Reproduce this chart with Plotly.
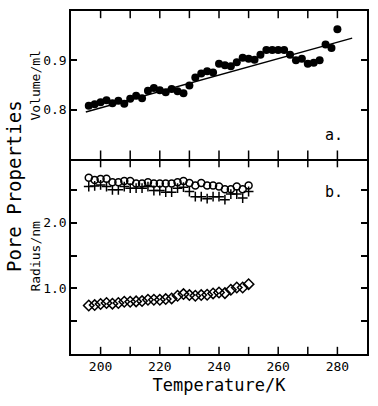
import plotly.graph_objects as go

# ---- data ----
temp_a = [196, 198, 200, 202, 204, 206, 208, 210, 212, 214, 216, 218, 220, 222,
          224, 226, 228, 230, 232, 234, 236, 238, 240, 242, 244, 246, 248, 250,
          252, 254, 256, 258, 260, 262, 264, 266, 268, 270, 272, 274, 276, 278, 280]
volume = [0.808, 0.811, 0.815, 0.819, 0.813, 0.818, 0.812, 0.822, 0.828, 0.823,
          0.838, 0.844, 0.839, 0.835, 0.842, 0.837, 0.833, 0.849, 0.865, 0.873,
          0.878, 0.875, 0.893, 0.890, 0.888, 0.896, 0.905, 0.903, 0.901, 0.911,
          0.921, 0.921, 0.921, 0.921, 0.911, 0.900, 0.903, 0.893, 0.895, 0.900,
          0.932, 0.925, 0.963]
fit_temp = [195, 285]
fit_volume = [0.795, 0.945]

temp_b = [196, 198, 200, 202, 204, 206, 208, 210, 212, 214, 216, 218, 220, 222,
          224, 226, 228, 230, 232, 234, 236, 238, 240, 242, 244, 246, 248, 250]
radius_circle = [2.69, 2.655, 2.67, 2.675, 2.62, 2.62, 2.64, 2.64, 2.60, 2.60,
                 2.62, 2.60, 2.60, 2.60, 2.60, 2.62, 2.64, 2.61, 2.57, 2.61,
                 2.57, 2.57, 2.555, 2.515, 2.515, 2.555, 2.515, 2.57]
radius_plus = [2.555, 2.565, 2.58, 2.555, 2.505, 2.505, 2.555, 2.53, 2.53, 2.53,
               2.555, 2.495, 2.495, 2.47, 2.47, 2.53, 2.545, 2.48, 2.40, 2.40,
               2.37, 2.40, 2.40, 2.355, 2.44, 2.44, 2.38, 2.48]
radius_diamond = [0.74, 0.747, 0.763, 0.778, 0.768, 0.778, 0.798, 0.798, 0.803,
                  0.808, 0.828, 0.828, 0.828, 0.838, 0.848, 0.889, 0.914, 0.899,
                  0.889, 0.899, 0.904, 0.924, 0.939, 0.929, 0.98, 1.015, 1.015, 1.066]

x_tickvals = [200, 210, 220, 230, 240, 250, 260, 270, 280]
x_ticktext = ["200", "", "220", "", "240", "", "260", "", "280"]
ya_tickvals = [0.8, 0.9]
ya_ticktext = ["0.8", "0.9"]
yb_tickvals = [0.5, 1.0, 1.5, 2.0, 2.5]
yb_ticktext = ["", "1.0", "", "2.0", ""]

FONT = "DejaVu Sans Mono"

# plot area at x 71..367, y 9..354 of the 378x406 page
PL, PT, PW, PH = 71, 9, 296, 345
W, H = 378, 406
LW = 1.5
TICK = 6
YA_RANGE = [0.7, 1.0]
YB_RANGE = [0.0, 3.0]

split = 197 / 345
half = (LW / 2) / PH
ya_dom = [split - half, 1]
yb_dom = [0, split + half]


def px(xp):
    return (xp - PL) / PW


def py(yp):
    return (PT + PH - yp) / PH


def units_per_px(rng, dom):
    return (rng[1] - rng[0]) / ((dom[1] - dom[0]) * PH)


ua = units_per_px(YA_RANGE, ya_dom)
ub = units_per_px(YB_RANGE, yb_dom)

fig = go.Figure()
fig.add_trace(go.Scatter(x=fit_temp, y=fit_volume, mode="lines",
                         line=dict(color="black", width=1.5),
                         xaxis="x2", yaxis="y2", showlegend=False))
fig.add_trace(go.Scatter(x=temp_a, y=volume, mode="markers",
                         marker=dict(symbol="circle", size=8, color="black"),
                         xaxis="x2", yaxis="y2", showlegend=False))
fig.add_trace(go.Scatter(x=temp_b, y=radius_plus, mode="markers",
                         marker=dict(symbol="cross-thin", size=7,
                                     line=dict(color="black", width=1.5)),
                         xaxis="x", yaxis="y", showlegend=False))
fig.add_trace(go.Scatter(x=temp_b, y=radius_circle, mode="markers",
                         marker=dict(symbol="circle-open", size=7, color="black",
                                     line=dict(width=1.5)),
                         xaxis="x", yaxis="y", showlegend=False))
fig.add_trace(go.Scatter(x=temp_b, y=radius_diamond, mode="markers",
                         marker=dict(symbol="diamond-open", size=8, color="black",
                                     line=dict(width=1.5)),
                         xaxis="x", yaxis="y", showlegend=False))

# x-axis tick marks drawn as short vertical line markers (inside the frame;
# the shared panel boundary gets ticks on both sides)
tick_rows = [
    ("x2", "y2", YA_RANGE[1] - ua * TICK / 2, TICK),   # top of panel a
    ("x2", "y2", YA_RANGE[0], 2 * TICK),               # shared boundary
    ("x", "y", YB_RANGE[0] + ub * TICK / 2, TICK),     # bottom of panel b
]
for xa, ya, yv, size in tick_rows:
    fig.add_trace(go.Scatter(
        x=x_tickvals, y=[yv] * len(x_tickvals), mode="markers",
        marker=dict(symbol="line-ns", size=size,
                    line=dict(color="black", width=LW)),
        xaxis=xa, yaxis=ya, cliponaxis=False, hoverinfo="skip",
        showlegend=False))

common_x = dict(range=[190, 290], tickmode="array", tickvals=x_tickvals,
                ticks="", showline=True, linecolor="black", linewidth=LW,
                mirror=True, showgrid=False, zeroline=False)
common_y = dict(tickmode="array", ticks="inside", ticklen=TICK, tickwidth=LW,
                tickcolor="black", showline=True, linecolor="black",
                linewidth=LW, mirror="allticks", showgrid=False, zeroline=False,
                tickfont=dict(family=FONT, size=13, color="black"))

fig.update_layout(
    width=W, height=H,
    margin=dict(l=PL, r=W - PL - PW, t=PT, b=H - PT - PH),
    plot_bgcolor="white", paper_bgcolor="white",
    font=dict(family=FONT, color="black"),
    xaxis=dict(common_x, domain=[0, 1], anchor="y", ticktext=x_ticktext,
               tickfont=dict(family=FONT, size=13, color="black"),
               title=dict(text="Temperature/K", font=dict(family=FONT, size=17),
                          standoff=6)),
    xaxis2=dict(common_x, domain=[0, 1], anchor="y2",
                ticktext=x_ticktext, showticklabels=False),
    yaxis=dict(common_y, domain=yb_dom, range=YB_RANGE, anchor="x",
               tickvals=yb_tickvals, ticktext=yb_ticktext),
    yaxis2=dict(common_y, domain=ya_dom, range=YA_RANGE, anchor="x2",
                tickvals=ya_tickvals, ticktext=ya_ticktext),
    annotations=[
        dict(text="Pore Properties", xref="paper", yref="paper",
             x=px(14), y=py(185), textangle=-90, showarrow=False,
             font=dict(family=FONT, size=19), xanchor="center", yanchor="middle"),
        dict(text="Volume/ml", xref="paper", yref="paper",
             x=px(36), y=py(84), textangle=-90,
             showarrow=False, font=dict(family=FONT, size=13),
             xanchor="center", yanchor="middle"),
        dict(text="Radius/nm", xref="paper", yref="paper",
             x=px(36), y=py(256), textangle=-90,
             showarrow=False, font=dict(family=FONT, size=13),
             xanchor="center", yanchor="middle"),
        dict(text="a.", xref="paper", yref="paper",
             x=px(334), y=py(134), showarrow=False,
             font=dict(family=FONT, size=15), xanchor="center", yanchor="middle"),
        dict(text="b.", xref="paper", yref="paper",
             x=px(334), y=py(191), showarrow=False,
             font=dict(family=FONT, size=15), xanchor="center", yanchor="middle"),
    ],
)

fig.write_html("out.html", config={"displayModeBar": False},
               post_script="document.body.style.margin='0';"
                           "document.body.style.overflow='hidden';")
